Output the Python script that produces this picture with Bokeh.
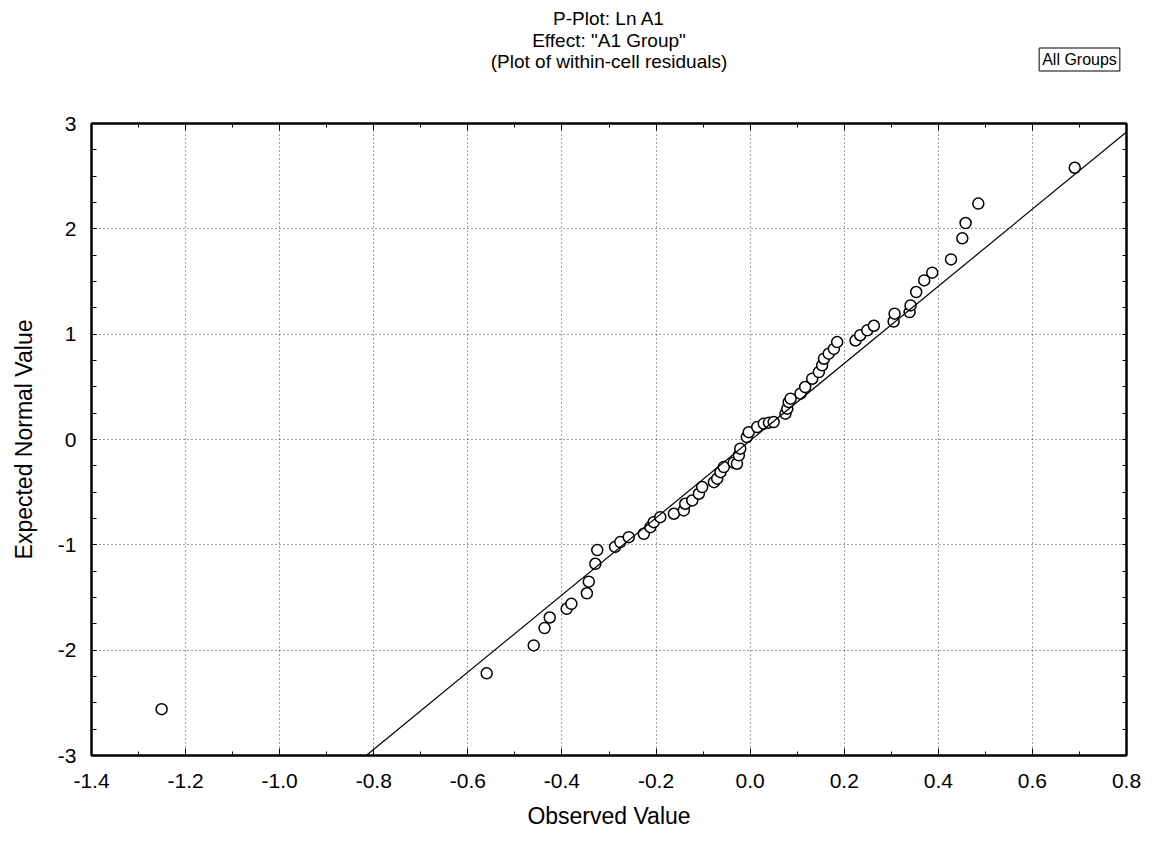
from bokeh.plotting import figure
from bokeh.models import Range1d, FixedTicker, LinearAxis, Label
from bokeh.embed import file_html
from bokeh.resources import INLINE

# ---- data ----
obs_x = [-1.251, -0.560, -0.460, -0.437, -0.426, -0.390, -0.380, -0.347, -0.343, -0.329,
         -0.325, -0.287, -0.276, -0.258, -0.226, -0.212, -0.205, -0.191, -0.162, -0.141,
         -0.138, -0.123, -0.109, -0.102, -0.077, -0.070, -0.063, -0.056, -0.035, -0.028,
         -0.024, -0.021, -0.007, -0.003, 0.015, 0.029, 0.040, 0.050, 0.075, 0.079,
         0.082, 0.086, 0.107, 0.117, 0.132, 0.146, 0.153, 0.157, 0.167, 0.178,
         0.185, 0.224, 0.234, 0.249, 0.263, 0.305, 0.307, 0.339, 0.341, 0.353,
         0.370, 0.387, 0.427, 0.451, 0.458, 0.485, 0.690]
exp_y = [-2.56, -2.22, -1.955, -1.79, -1.69, -1.607, -1.56, -1.46, -1.35, -1.18,
         -1.05, -1.02, -0.974, -0.927, -0.895, -0.832, -0.785, -0.737, -0.705, -0.673,
         -0.61, -0.578, -0.515, -0.452, -0.405, -0.372, -0.31, -0.262, -0.22, -0.23,
         -0.15, -0.087, 0.023, 0.07, 0.118, 0.15, 0.16, 0.165, 0.245, 0.293,
         0.355, 0.388, 0.435, 0.498, 0.577, 0.64, 0.704, 0.767, 0.815, 0.86,
         0.925, 0.94, 0.99, 1.036, 1.08, 1.12, 1.195, 1.21, 1.273, 1.40,
         1.51, 1.584, 1.71, 1.91, 2.055, 2.24, 2.58]
fit_x = [-0.816, 0.80]
fit_y = [-3.0, 2.92]

x_ticks = [-1.4, -1.2, -1.0, -0.8, -0.6, -0.4, -0.2, 0.0, 0.2, 0.4, 0.6, 0.8]
x_labels = ["-1.4", "-1.2", "-1.0", "-0.8", "-0.6", "-0.4", "-0.2", "0.0", "0.2", "0.4", "0.6", "0.8"]
y_ticks = [-3, -2, -1, 0, 1, 2, 3]
y_labels = ["-3", "-2", "-1", "0", "1", "2", "3"]
x_minor = [-1.4 + 0.1 * i for i in range(23)]
y_minor = [-3 + 0.25 * i for i in range(25)]

title_lines = ["P-Plot: Ln A1", 'Effect: "A1 Group"', "(Plot of within-cell residuals)"]
legend_text = "All Groups"

FONT = "Liberation Sans"

p = figure(width=1152, height=842, output_backend="svg", toolbar_location=None,
           x_range=Range1d(-1.4, 0.8), y_range=Range1d(-3, 3),
           min_border_left=91, min_border_right=26, min_border_top=123, min_border_bottom=87,
           background_fill_color="white", border_fill_color="white")
p.outline_line_color = "black"
p.outline_line_width = 2

def style_axis(ax, ticks, minor, labels, show_labels):
    ax.ticker = FixedTicker(ticks=ticks, minor_ticks=minor)
    ax.major_tick_in = 7
    ax.major_tick_out = 0
    ax.minor_tick_in = 4
    ax.minor_tick_out = 0
    ax.major_tick_line_color = "black"
    ax.minor_tick_line_color = "black"
    ax.major_tick_line_width = 1
    ax.axis_line_color = "black"
    ax.axis_line_width = 2
    ax.major_label_text_font = FONT
    ax.major_label_text_color = "black"
    if show_labels:
        ax.major_label_overrides = {t: l for t, l in zip(ticks, labels)}
        ax.major_label_text_font_size = "21px"
    else:
        ax.major_label_overrides = {t: "" for t in ticks}
        ax.major_label_text_font_size = "1px"
        ax.major_label_standoff = 0

xa = p.xaxis[0]
ya = p.yaxis[0]
style_axis(xa, x_ticks, x_minor, x_labels, True)
style_axis(ya, y_ticks, y_minor, y_labels, True)
ya.major_tick_in = 5
ya.minor_tick_in = 5
xa.major_label_standoff = 18
ya.major_label_standoff = 15
xa.axis_label = "Observed Value"
ya.axis_label = "Expected Normal Value"
for ax in (xa, ya):
    ax.axis_label_text_font = FONT
    ax.axis_label_text_font_size = "23px"
    ax.axis_label_text_font_style = "normal"
    ax.axis_label_text_color = "black"
xa.axis_label_standoff = 12
ya.axis_label_standoff = 18

top = LinearAxis()
style_axis(top, x_ticks, x_minor, x_labels, False)
p.add_layout(top, "above")
right = LinearAxis()
style_axis(right, y_ticks, y_minor, y_labels, False)
right.major_tick_in = 4
right.minor_tick_in = 4
p.add_layout(right, "right")

for g, ticks in ((p.xgrid[0], x_ticks), (p.ygrid[0], y_ticks)):
    g.ticker = FixedTicker(ticks=ticks)
    g.grid_line_color = "black"
    g.grid_line_alpha = 0.75
    g.grid_line_dash = "1 3"
    g.grid_line_width = 1

p.scatter(obs_x, exp_y, marker="circle", size=11, fill_color="white",
          line_color="black", line_width=1.5)
p.line(fit_x, fit_y, line_color="black", line_width=1.2)

# title lines as labels in the top panel (each gets its own row, stacked outward)
FRAME_CX = 517.5
for t, yy in zip(reversed(title_lines), [62, 62.5, 63]):
    p.add_layout(Label(x=FRAME_CX, y=yy, x_units="screen", y_units="screen", text=t,
                       text_align="center", text_baseline="middle",
                       text_font=FONT, text_font_size="19px", text_color="black"), "above")

p.add_layout(Label(x=988, y=1, x_units="screen", y_units="screen", text=legend_text,
                   text_align="center", text_baseline="middle",
                   text_font=FONT, text_font_size="16px", text_color="black",
                   border_line_color="black", border_line_width=1,
                   background_fill_color="white", padding=3), "above")

open("out.html", "w").write(file_html(p, INLINE))
